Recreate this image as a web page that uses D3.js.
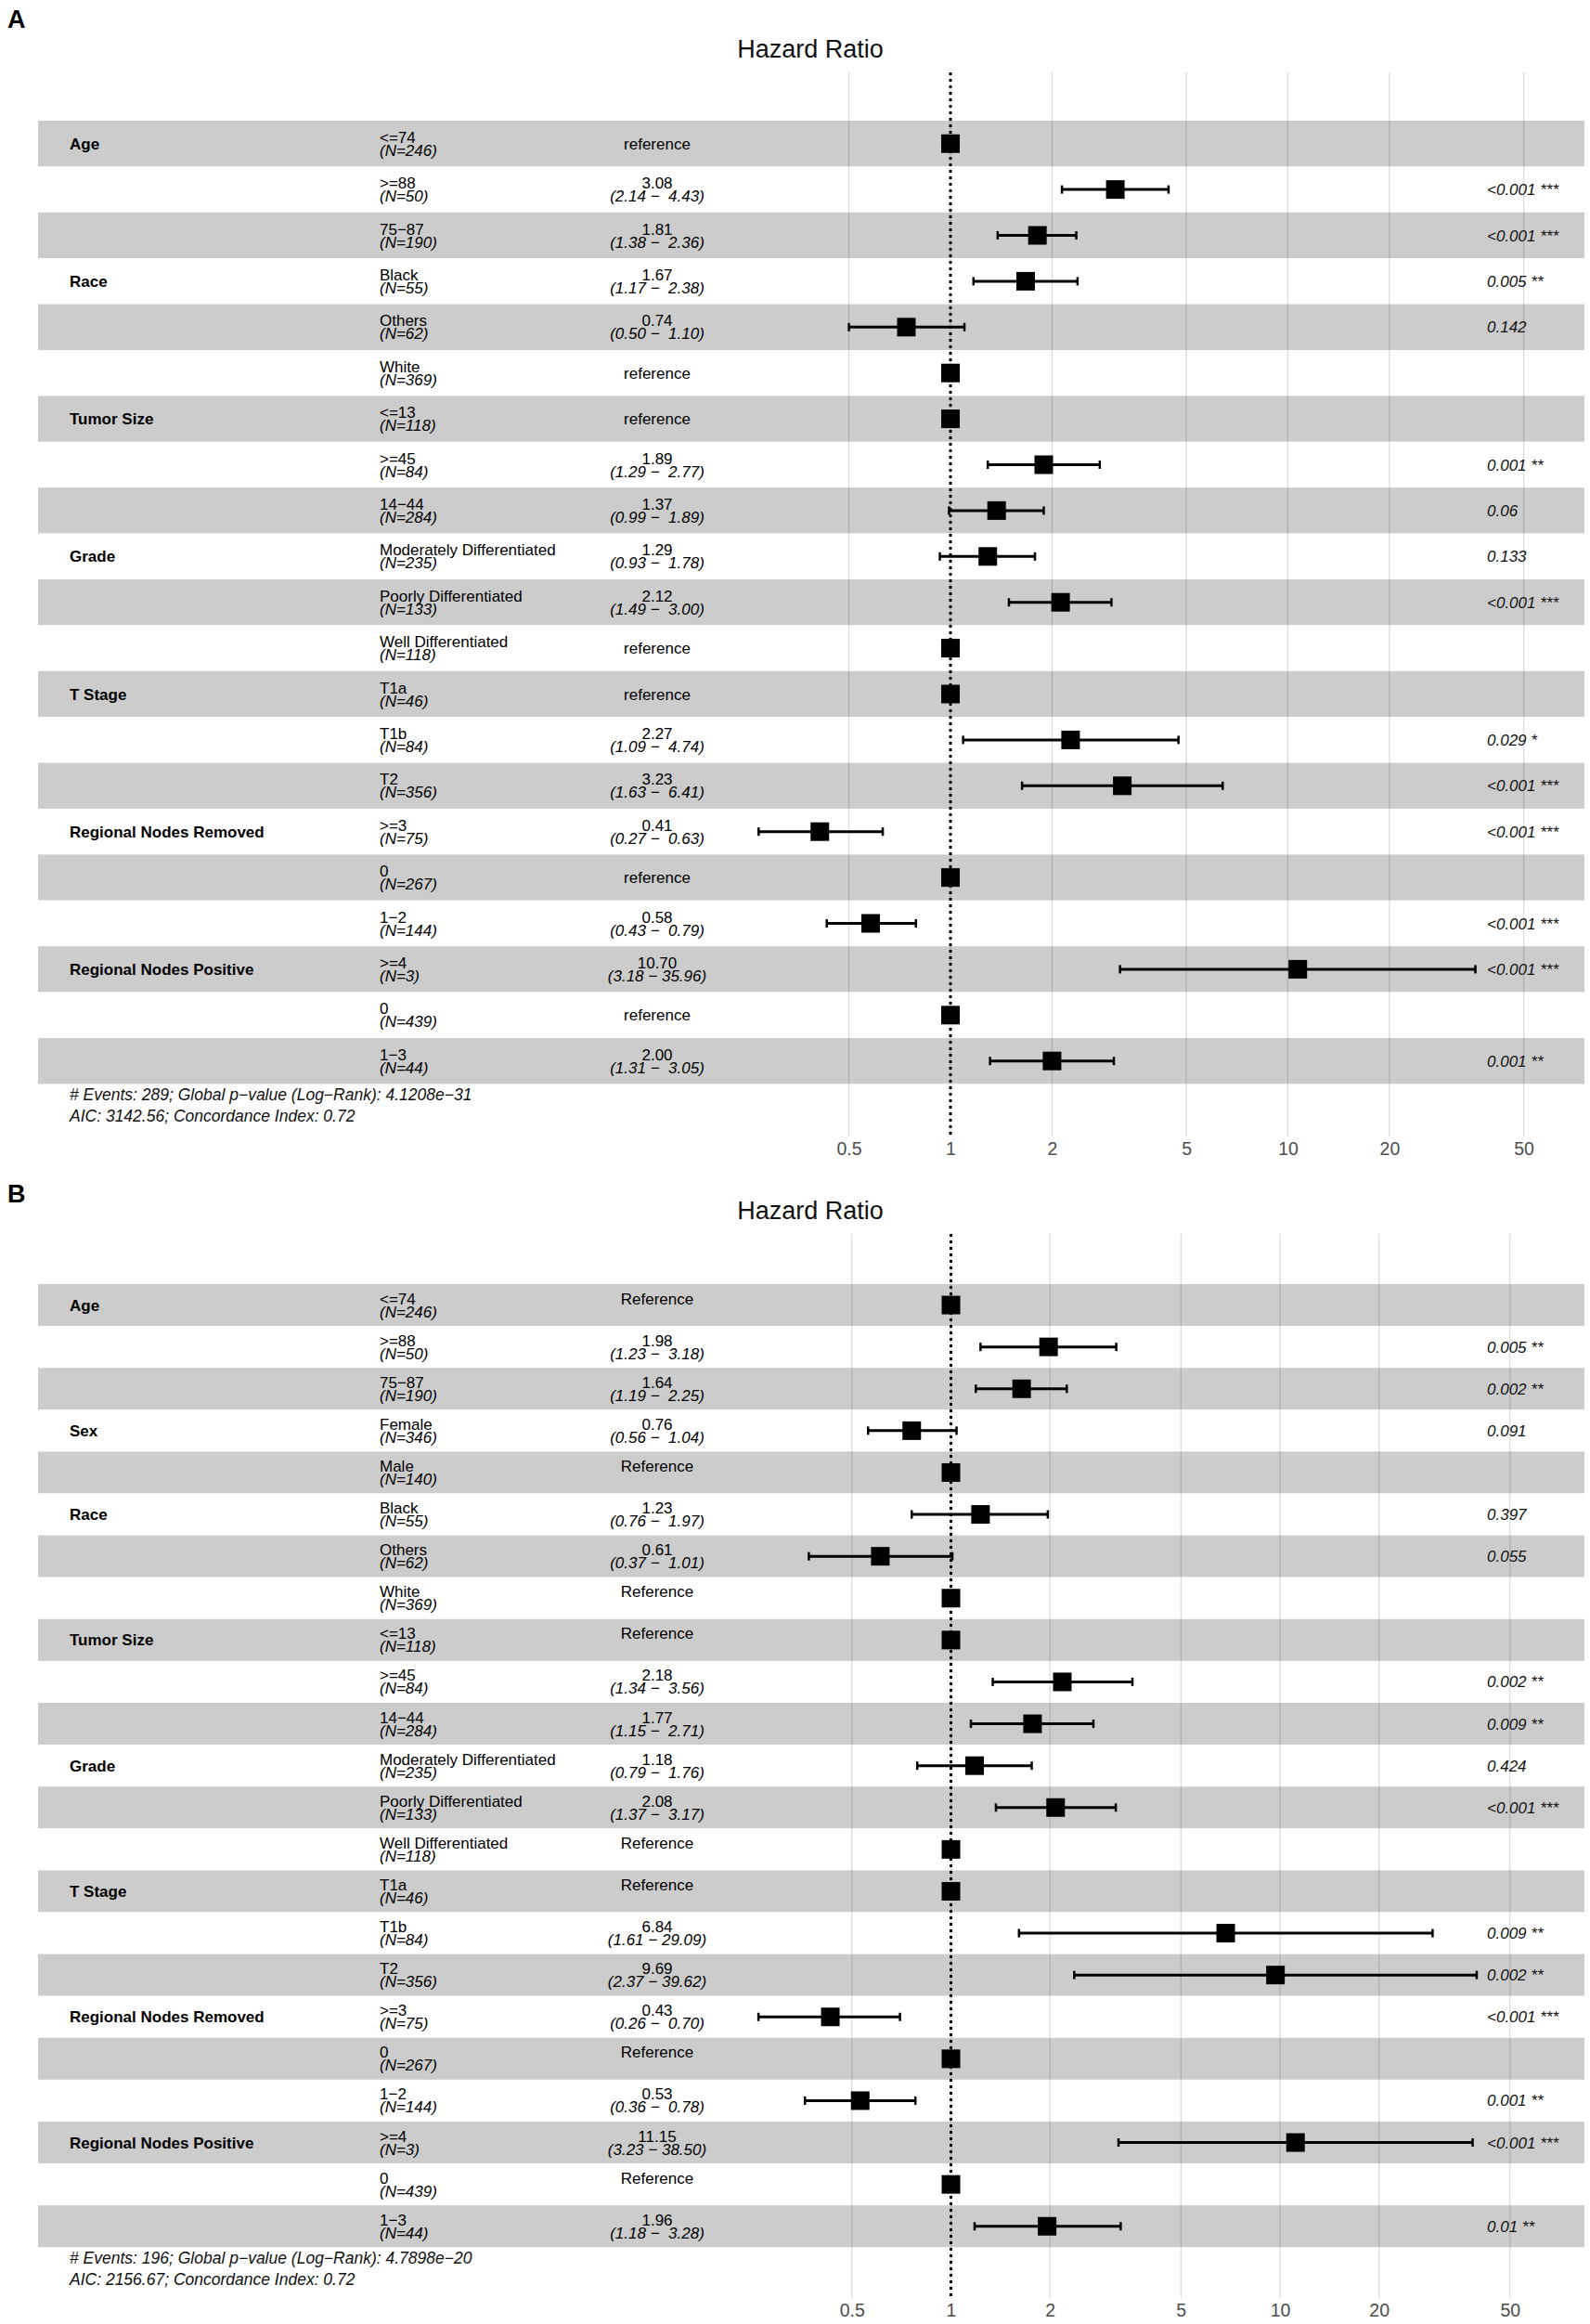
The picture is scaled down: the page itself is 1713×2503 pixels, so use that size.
<!DOCTYPE html>
<html>
<head>
<meta charset="utf-8">
<script src="https://cdn.jsdelivr.net/npm/d3@7"></script>
<style>
  body { margin: 0; background: #fff; }
  text { font-family: "Liberation Sans", Arial, sans-serif; }
</style>
</head>
<body>
<div id="chart"></div>
<script>
const ticks = [0.5, 1, 2, 5, 10, 20, 50];

// ---- panel A ----
const groupA = ["Age", "", "", "Race", "", "", "Tumor Size", "", "", "Grade", "", "", "T Stage", "", "",
  "Regional Nodes Removed", "", "", "Regional Nodes Positive", "", ""];
const levelA = ["<=74", ">=88", "75−87", "Black", "Others", "White", "<=13", ">=45", "14−44",
  "Moderately Differentiated", "Poorly Differentiated", "Well Differentiated", "T1a", "T1b", "T2",
  ">=3", "0", "1−2", ">=4", "0", "1−3"];
const nA = [246, 50, 190, 55, 62, 369, 118, 84, 284, 235, 133, 118, 46, 84, 356, 75, 267, 144, 3, 439, 44];
const hrA = [1, 3.08, 1.81, 1.67, 0.74, 1, 1, 1.89, 1.37, 1.29, 2.12, 1, 1, 2.27, 3.23, 0.41, 1, 0.58, 10.70, 1, 2.00];
const loA = [null, 2.14, 1.38, 1.17, 0.50, null, null, 1.29, 0.99, 0.93, 1.49, null, null, 1.09, 1.63, 0.27, null, 0.43, 3.18, null, 1.31];
const hiA = [null, 4.43, 2.36, 2.38, 1.10, null, null, 2.77, 1.89, 1.78, 3.00, null, null, 4.74, 6.41, 0.63, null, 0.79, 35.96, null, 3.05];
const pA = ["", "<0.001 ***", "<0.001 ***", "0.005 **", "0.142", "", "", "0.001 **", "0.06", "0.133", "<0.001 ***", "",
  "", "0.029 *", "<0.001 ***", "<0.001 ***", "", "<0.001 ***", "<0.001 ***", "", "0.001 **"];
const footA = ["# Events: 289; Global p−value (Log−Rank): 4.1208e−31", "AIC: 3142.56; Concordance Index: 0.72"];

// ---- panel B ----
const groupB = ["Age", "", "", "Sex", "", "Race", "", "", "Tumor Size", "", "", "Grade", "", "", "T Stage", "", "",
  "Regional Nodes Removed", "", "", "Regional Nodes Positive", "", ""];
const levelB = ["<=74", ">=88", "75−87", "Female", "Male", "Black", "Others", "White", "<=13", ">=45", "14−44",
  "Moderately Differentiated", "Poorly Differentiated", "Well Differentiated", "T1a", "T1b", "T2",
  ">=3", "0", "1−2", ">=4", "0", "1−3"];
const nB = [246, 50, 190, 346, 140, 55, 62, 369, 118, 84, 284, 235, 133, 118, 46, 84, 356, 75, 267, 144, 3, 439, 44];
const hrB = [1, 1.98, 1.64, 0.76, 1, 1.23, 0.61, 1, 1, 2.18, 1.77, 1.18, 2.08, 1, 1, 6.84, 9.69, 0.43, 1, 0.53, 11.15, 1, 1.96];
const loB = [null, 1.23, 1.19, 0.56, null, 0.76, 0.37, null, null, 1.34, 1.15, 0.79, 1.37, null, null, 1.61, 2.37, 0.26, null, 0.36, 3.23, null, 1.18];
const hiB = [null, 3.18, 2.25, 1.04, null, 1.97, 1.01, null, null, 3.56, 2.71, 1.76, 3.17, null, null, 29.09, 39.62, 0.70, null, 0.78, 38.50, null, 3.28];
const pB = ["", "0.005 **", "0.002 **", "0.091", "", "0.397", "0.055", "", "", "0.002 **", "0.009 **", "0.424", "<0.001 ***", "",
  "", "0.009 **", "0.002 **", "<0.001 ***", "", "0.001 **", "<0.001 ***", "", "0.01 **"];
const footB = ["# Events: 196; Global p−value (Log−Rank): 4.7898e−20", "AIC: 2156.67; Concordance Index: 0.72"];

const W = 1713, H = 2503;
const svg = d3.select("#chart").append("svg")
    .attr("width", W)
    .attr("height", H);
svg.append("rect").attr("width", W).attr("height", H).attr("fill", "white");

const fs = 17;
const fmt = v => v.toFixed(2);
const pad = v => (v < 10 ? "\u00a0" : "") + fmt(v);

function drawPanel(cfg) {
    const n = cfg.level.length;
    const rows = cfg.level.map((lv, i) => ({
        i: i, group: cfg.group[i], level: lv, n: cfg.n[i],
        hr: cfg.hr[i], lo: cfg.lo[i], hi: cfg.hi[i], p: cfg.p[i]
    }));
    const g = svg.append("g");

    const y = d3.scaleBand()
        .domain(d3.range(n))
        .range([cfg.rowTop, cfg.rowTop + n * cfg.rowH]);
    const x = d3.scaleLog()
        .domain([0.5, 50])
        .range([cfg.x1 - cfg.decade * Math.log10(2), cfg.x1 + cfg.decade * Math.log10(50)]);
    const yc = i => y(i) + y.bandwidth() / 2;

    // panel letter and title
    g.append("text")
        .attr("x", 8).attr("y", cfg.letterY)
        .attr("font-size", 27).attr("font-weight", "bold")
        .text(cfg.letter);
    g.append("text")
        .attr("x", 873).attr("y", cfg.top + 62)
        .attr("text-anchor", "middle")
        .attr("font-size", 27).attr("fill", "#111")
        .text("Hazard Ratio");

    // row bands
    g.selectAll("rect.band")
        .data(rows)
        .join("rect")
        .attr("class", "band")
        .attr("x", 41).attr("width", 1666)
        .attr("y", d => y(d.i))
        .attr("height", y.bandwidth())
        .attr("fill", d => d.i % 2 === 0 ? "#cccccc" : "#ffffff");

    // vertical grid
    g.selectAll("line.grid")
        .data(ticks)
        .join("line")
        .attr("class", "grid")
        .attr("x1", d => x(d)).attr("x2", d => x(d))
        .attr("y1", cfg.top + 78).attr("y2", cfg.top + 1224)
        .attr("stroke", "rgba(0,0,0,0.14)")
        .attr("stroke-width", 1.3);

    // reference line at 1
    g.append("line")
        .attr("x1", x(1)).attr("x2", x(1))
        .attr("y1", cfg.top + 78).attr("y2", cfg.top + 1224)
        .attr("stroke", "#000")
        .attr("stroke-width", 3)
        .attr("stroke-dasharray", "3,4");

    // axis labels
    const axis = g.append("g")
        .attr("transform", `translate(0,${cfg.top + 1227})`)
        .call(d3.axisBottom(x).tickValues(ticks).tickSize(0).tickFormat(d3.format("~g")));
    axis.select(".domain").remove();
    axis.selectAll("text")
        .attr("font-size", 19.5)
        .attr("font-family", "Liberation Sans, Arial, sans-serif")
        .attr("fill", "#4d4d4d");

    // variable names
    g.selectAll("text.grp")
        .data(rows.filter(d => d.group))
        .join("text")
        .attr("class", "grp")
        .attr("x", 75).attr("y", d => yc(d.i) + 6)
        .attr("font-size", fs).attr("font-weight", "bold")
        .text(d => d.group);

    // level + N
    const lev = g.selectAll("g.lev").data(rows).join("g").attr("class", "lev");
    lev.append("text")
        .attr("x", 409).attr("y", d => yc(d.i) - 1)
        .attr("font-size", fs)
        .text(d => d.level);
    lev.append("text")
        .attr("x", 409).attr("y", d => yc(d.i) + 13)
        .attr("font-size", fs).attr("font-style", "italic")
        .text(d => `(N=${d.n})`);

    // estimates
    const est = g.selectAll("g.est").data(rows).join("g").attr("class", "est");
    est.append("text")
        .attr("x", 708)
        .attr("y", d => d.lo == null ? yc(d.i) + cfg.refDy : yc(d.i) - 1)
        .attr("text-anchor", "middle")
        .attr("font-size", fs)
        .text(d => d.lo == null ? cfg.refText : fmt(d.hr));
    est.filter(d => d.lo != null).append("text")
        .attr("x", 708).attr("y", d => yc(d.i) + 13)
        .attr("text-anchor", "middle")
        .attr("font-size", fs).attr("font-style", "italic")
        .style("white-space", "pre")
        .text(d => `(${fmt(d.lo)} − ${pad(d.hi)})`);

    // p-values
    g.selectAll("text.pv")
        .data(rows.filter(d => d.p))
        .join("text")
        .attr("class", "pv")
        .attr("x", 1602).attr("y", d => yc(d.i) + 6)
        .attr("font-size", fs).attr("font-style", "italic")
        .attr("fill", "#111")
        .text(d => d.p);

    // confidence intervals
    const ci = rows.filter(d => d.lo != null);
    g.selectAll("line.ci")
        .data(ci)
        .join("line")
        .attr("class", "ci")
        .attr("x1", d => x(d.lo)).attr("x2", d => x(d.hi))
        .attr("y1", d => yc(d.i)).attr("y2", d => yc(d.i))
        .attr("stroke", "#000").attr("stroke-width", 3);
    ["lo", "hi"].forEach(k => {
        g.selectAll("line.cap" + k)
            .data(ci)
            .join("line")
            .attr("class", "cap" + k)
            .attr("x1", d => x(d[k])).attr("x2", d => x(d[k]))
            .attr("y1", d => yc(d.i) - 4.5).attr("y2", d => yc(d.i) + 4.5)
            .attr("stroke", "#000").attr("stroke-width", 2.5);
    });

    // point estimates
    g.selectAll("rect.pt")
        .data(rows)
        .join("rect")
        .attr("class", "pt")
        .attr("x", d => x(d.hr) - 10)
        .attr("y", d => yc(d.i) - 10)
        .attr("width", 20).attr("height", 20)
        .attr("fill", "#000");

    // footer
    const bottom = cfg.rowTop + n * cfg.rowH;
    g.selectAll("text.foot")
        .data(cfg.foot)
        .join("text")
        .attr("class", "foot")
        .attr("x", 75).attr("y", (d, i) => bottom + 18 + i * 23)
        .attr("font-size", 17.5).attr("font-style", "italic")
        .attr("fill", "#111")
        .text(d => d);
}

drawPanel({
    letter: "A", letterY: 30, top: 0, rowTop: 130, rowH: 49.4,
    x1: 1024, decade: 363.5, refText: "reference", refDy: 6,
    group: groupA, level: levelA, n: nA, hr: hrA, lo: loA, hi: hiA, p: pA, foot: footA
});
drawPanel({
    letter: "B", letterY: 1295, top: 1251, rowTop: 1383, rowH: 45.1,
    x1: 1024.5, decade: 354.5, refText: "Reference", refDy: -1,
    group: groupB, level: levelB, n: nB, hr: hrB, lo: loB, hi: hiB, p: pB, foot: footB
});
</script>
</body>
</html>
